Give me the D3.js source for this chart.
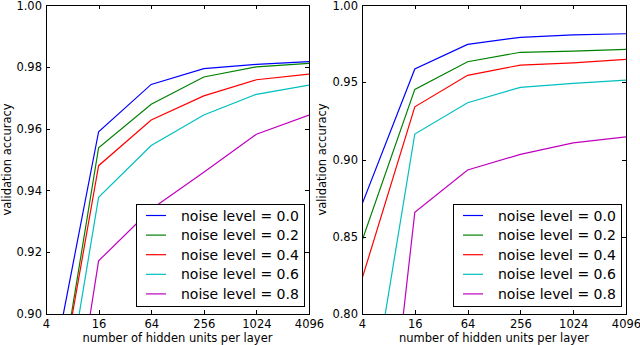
<!DOCTYPE html>
<html>
<head>
<meta charset="utf-8">
<script src="https://cdn.jsdelivr.net/npm/d3@7"></script>
<style>
    body { margin: 0; background: #fff; }
    svg { display: block; font-family: "DejaVu Sans", sans-serif; }
</style>
</head>
<body>
<div id="chart"></div>
<script>
// hidden units per layer (x axis, log base 4)
const units = [4, 16, 64, 256, 1024, 4096];
const xTicks = [4, 16, 64, 256, 1024, 4096];

const noiseLevels = ['0.0', '0.2', '0.4', '0.6', '0.8'];
const colors = ['#0000ff', '#008000', '#ff0000', '#00bfbf', '#bf00bf'];

// left panel: validation accuracy per noise level
const leftN00 = [0.871, 0.959, 0.9743, 0.9794, 0.9808, 0.9817];
const leftN02 = [0.8496, 0.9538, 0.9679, 0.9767, 0.9800, 0.9811];
const leftN04 = [0.8515, 0.948, 0.9628, 0.9706, 0.9758, 0.9776];
const leftN06 = [0.8353, 0.9378, 0.9545, 0.9644, 0.9711, 0.9741];
const leftN08 = [0.8088, 0.9172, 0.9339, 0.9459, 0.9582, 0.9644];
const leftYTicks = [0.90, 0.92, 0.94, 0.96, 0.98, 1.00];

// right panel
const rightN00 = [0.871, 0.9586, 0.9745, 0.9791, 0.9806, 0.9814];
const rightN02 = [0.8474, 0.9454, 0.9633, 0.9694, 0.9702, 0.9713];
const rightN04 = [0.8227, 0.9341, 0.9545, 0.9611, 0.9626, 0.9648];
const rightN06 = [0.7085, 0.9165, 0.9367, 0.9467, 0.9493, 0.9514];
const rightN08 = [0.562, 0.8658, 0.8932, 0.9033, 0.9108, 0.9147];
const rightYTicks = [0.80, 0.85, 0.90, 0.95, 1.00];

const W = 640, H = 345;
const FONT = 11.5;

const svg = d3.select('#chart').append('svg')
    .attr('width', W)
    .attr('height', H);

function drawPanel(id, box, series, yDomain, yTicks, ylabelX) {
    const x = d3.scaleLog().base(4).domain([4, 4096]).range([box.x0, box.x1]);
    const y = d3.scaleLinear().domain(yDomain).range([box.y1, box.y0]);

    const g = svg.append('g');

    g.append('clipPath').attr('id', 'clip-' + id)
      .append('rect')
        .attr('x', box.x0).attr('y', box.y0)
        .attr('width', box.x1 - box.x0).attr('height', box.y1 - box.y0);

    const line = d3.line()
        .x((d, i) => x(units[i]))
        .y(d => y(d));

    g.append('g').attr('clip-path', 'url(#clip-' + id + ')')
      .selectAll('path')
      .data(series)
      .join('path')
        .attr('d', d => line(d))
        .attr('fill', 'none')
        .attr('stroke', (d, i) => colors[i])
        .attr('stroke-width', 1.2);

    // axes, ticks pointing inwards on all four sides
    const fmtX = d3.format('d');
    const fmtY = d3.format('.2f');

    const bottom = g.append('g').attr('transform', 'translate(0,' + box.y1 + ')')
        .call(d3.axisBottom(x).tickValues(xTicks).tickFormat(fmtX)
              .tickSizeInner(-4).tickSizeOuter(0).tickPadding(6));
    const left = g.append('g').attr('transform', 'translate(' + box.x0 + ',0)')
        .call(d3.axisLeft(y).tickValues(yTicks).tickFormat(fmtY)
              .tickSizeInner(-4).tickSizeOuter(0).tickPadding(4));
    const top = g.append('g').attr('transform', 'translate(0,' + box.y0 + ')')
        .call(d3.axisTop(x).tickValues(xTicks).tickFormat('')
              .tickSizeInner(-4).tickSizeOuter(0));
    const right = g.append('g').attr('transform', 'translate(' + box.x1 + ',0)')
        .call(d3.axisRight(y).tickValues(yTicks).tickFormat('')
              .tickSizeInner(-4).tickSizeOuter(0));

    [bottom, left, top, right].forEach(a => {
        a.select('.domain').remove();
        a.attr('font-family', null).attr('font-size', FONT);
        a.selectAll('line').attr('stroke', '#000').attr('shape-rendering', 'crispEdges');
        a.selectAll('text').attr('fill', '#000');
    });
    // top label sits right at the figure edge, nudge it in a little
    left.selectAll('.tick text').filter(d => d === yDomain[1]).attr('dy', '0.42em');

    g.append('rect')
        .attr('x', box.x0 + 0.5).attr('y', box.y0 + 0.5)
        .attr('width', box.x1 - box.x0).attr('height', box.y1 - box.y0)
        .attr('fill', 'none')
        .attr('stroke', '#000')
        .attr('stroke-width', 1);

    g.append('text')
        .attr('x', (box.x0 + box.x1) / 2)
        .attr('y', 341.5)
        .attr('text-anchor', 'middle')
        .attr('font-size', FONT)
        .text('number of hidden units per layer');

    g.append('text')
        .attr('transform', 'translate(' + ylabelX + ',' + (box.y0 + box.y1) / 2 + ') rotate(-90)')
        .attr('text-anchor', 'middle')
        .attr('dominant-baseline', 'central')
        .attr('font-size', FONT)
        .text('validation accuracy');

    // legend, lower right
    const lw = 168, lh = 102;
    const lx = box.x1 - 5 - lw, ly = box.y1 - 8 - lh;
    const leg = g.append('g').attr('transform', 'translate(' + lx + ',' + ly + ')');
    leg.append('rect')
        .attr('x', 0.5).attr('y', 0.5)
        .attr('width', lw).attr('height', lh)
        .attr('fill', '#fff')
        .attr('stroke', '#000')
        .attr('stroke-width', 1);

    const rows = leg.selectAll('g.row')
        .data(noiseLevels)
        .join('g')
        .attr('class', 'row')
        .attr('transform', (d, i) => 'translate(0,' + (11.5 + i * 19.6) + ')');
    rows.append('line')
        .attr('x1', 10).attr('x2', 30)
        .attr('stroke', (d, i) => colors[i])
        .attr('stroke-width', 1.2);
    rows.append('text')
        .attr('x', 45)
        .attr('dominant-baseline', 'central')
        .attr('font-size', 14)
        .text(d => 'noise level = ' + d);
}

drawPanel('left', {x0: 46, x1: 309, y0: 5, y1: 314},
    [leftN00, leftN02, leftN04, leftN06, leftN08],
    [0.90, 1.00], leftYTicks, 7);

drawPanel('right', {x0: 362, x1: 626, y0: 5, y1: 314},
    [rightN00, rightN02, rightN04, rightN06, rightN08],
    [0.80, 1.00], rightYTicks, 322);
</script>
</body>
</html>
